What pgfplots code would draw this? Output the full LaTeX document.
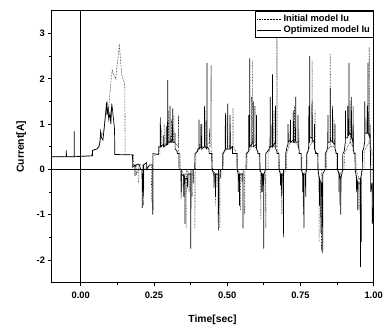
\documentclass[border=0pt]{standalone}
\usepackage{fontspec}
\setmainfont{Liberation Sans}
\usepackage{pgfplots}
\pgfplotsset{compat=1.18}
\begin{document}
\begin{tikzpicture}
\begin{axis}[
  scale only axis, width=326bp, height=275bp,
  xmin=-0.1, xmax=1.0, ymin=-2.5, ymax=3.5,
  xtick={0,0.25,0.5,0.75,1.0}, ytick={-2,-1,0,1,2,3},
  minor x tick num=1, minor y tick num=1,
  tick pos=left, tick align=outside,
  major tick length=3bp, minor tick length=2bp,
  axis line style={black, line width=0.9pt},
  every tick/.style={black, line width=0.8pt},
  /pgf/number format/assume math mode=true,
  xticklabel style={yshift=-3bp, /pgf/number format/.cd, fixed, fixed zerofill, precision=2},
  yticklabel style={/pgf/number format/.cd, fixed, precision=0},
  ticklabel style={font=\fontsize{9.5}{11}\selectfont\bfseries},
  label style={font=\fontsize{10.5}{12}\selectfont\bfseries},
  xlabel={Time[sec]}, ylabel={Current[A]},
  xlabel style={yshift=-4bp}, ylabel style={yshift=-2bp},
  extra x ticks={0}, extra x tick labels={},
  extra y ticks={0}, extra y tick labels={},
  extra tick style={grid=major, major grid style={black, line width=1.4pt}},
  legend style={at={(1,1)}, anchor=north east, draw=black, line width=0.7pt,
    font=\fontsize{9.5}{11}\selectfont\bfseries, inner sep=1.5pt, row sep=-1pt,
    cells={anchor=west}},
  legend cell align=left,
  legend image code/.code={\draw[#1] (0cm,0cm) -- (0.85cm,0cm);},
]
\addplot[black, line width=0.55pt, densely dotted] coordinates {
(-0.1,0.28)(0.037,0.3)(0.0405,0.42)(0.055,0.45)(0.062,0.5)(0.066,0.65)(0.068,0.85)(0.072,0.75)(0.08,0.9)(0.085,1.2)(0.09,1.5)(0.095,1.3)(0.1,1.7)(0.104,2.0)(0.108,2.2)(0.112,2.1)(0.116,2.05)(0.12,2.0)(0.124,2.3)(0.128,2.5)(0.132,2.77)(0.136,2.4)(0.14,2.1)(0.144,2.0)(0.148,1.95)(0.151,1.85)(0.1515,0.33)
(0.18,0.33)(0.1805,0.1)(0.1895,0.1)(0.19,-0.1)(0.1975,0.0)(0.198,-0.3)(0.1985,0.1)(0.2115,0.1)(0.212,-0.5)(0.2145,-0.5)(0.215,-0.8)(0.2155,0.0)(0.2415,0.1)(0.242,-0.7)(0.2465,-0.7)(0.247,-0.9)(0.2475,0.3)(0.27,0.35)
(0.2705,0.5)(0.2745,0.5)(0.275,0.9)(0.2755,0.5)(0.2845,0.5)(0.285,1.0)(0.2855,0.5)(0.2995,0.55)(0.3,1.3)(0.3005,0.6)(0.3095,0.6)(0.31,1.1)(0.3105,0.6)(0.3175,0.6)(0.318,1.2)(0.3185,0.6)(0.3335,0.5)(0.334,1.2)(0.3345,0.4)(0.3395,0.35)(0.34,0.0)
(0.3425,0.0)(0.343,-0.65)(0.3435,0.0)(0.3495,-0.1)(0.35,-0.4)(0.3505,-0.1)(0.3595,-0.1)(0.36,-1.3)(0.3605,0.0)(0.3695,-0.1)(0.37,-0.5)(0.3705,-0.1)(0.3795,-0.1)(0.38,-0.6)(0.3805,-0.1)(0.3895,-0.1)(0.39,-1.3)(0.3905,0.0)(0.3925,0.0)(0.393,0.35)
(0.4,0.45)(0.4095,0.5)(0.41,1.0)(0.4105,0.5)(0.4245,0.5)(0.425,1.3)(0.4255,0.5)(0.4395,0.6)(0.44,0.9)(0.4405,0.5)(0.4445,0.5)(0.445,2.3)(0.4455,0.4)(0.4495,0.35)(0.45,0.0)
(0.4595,-0.1)(0.46,-0.8)(0.4605,-0.1)(0.4645,-0.1)(0.465,-0.4)(0.4655,-0.1)(0.4745,-0.1)(0.475,-1.3)(0.4755,0.0)(0.4865,0.0)(0.487,0.35)
(0.4995,0.45)(0.5,1.2)(0.5005,0.5)(0.5095,0.5)(0.51,1.0)(0.5105,0.5)(0.5195,0.5)(0.52,1.35)(0.5205,0.5)(0.5295,0.4)(0.53,0.35)(0.5345,0.35)(0.535,0.0)
(0.5445,-0.1)(0.545,-0.9)(0.5455,-0.1)(0.5495,-0.1)(0.55,-0.3)(0.5505,-0.1)(0.5595,-0.1)(0.56,-1.0)(0.5605,0.0)(0.5675,0.0)(0.568,0.35)
(0.5835,0.5)(0.584,1.6)(0.5845,0.5)(0.5855,0.5)(0.586,2.4)(0.5865,0.6)(0.5945,0.6)(0.595,1.4)(0.5955,0.5)(0.6045,0.4)(0.605,0.35)(0.6095,0.35)(0.61,0.0)
(0.6145,-0.1)(0.615,-1.1)(0.6155,-0.1)(0.6195,-0.1)(0.62,-0.5)(0.6205,-0.1)(0.6315,-0.1)(0.632,-1.3)(0.6325,0.0)(0.6395,0.0)(0.64,0.35)
(0.6495,0.5)(0.65,1.0)(0.6505,0.5)(0.6595,0.5)(0.66,1.3)(0.6605,0.5)(0.6695,0.5)(0.67,3.4)(0.6705,0.4)(0.6775,0.35)(0.678,0.0)
(0.6845,-0.1)(0.685,-1.0)(0.6855,-0.1)(0.6895,-0.1)(0.69,-0.3)(0.6905,-0.1)(0.7025,0.0)(0.703,0.35)
(0.7145,0.6)(0.715,1.0)(0.7155,0.6)(0.7295,0.6)(0.73,1.4)(0.7305,0.6)(0.7445,0.5)(0.745,0.9)(0.7455,0.35)(0.7545,0.35)(0.755,0.0)
(0.7595,-0.1)(0.76,-1.0)(0.7605,-0.1)(0.7715,0.0)(0.772,0.35)
(0.7895,0.6)(0.79,2.4)(0.7905,0.6)(0.7995,0.55)(0.8,1.3)(0.8005,0.4)(0.8095,0.35)(0.81,0.0)
(0.8135,-0.2)(0.814,-1.6)(0.8145,-0.3)(0.8215,-0.3)(0.822,-1.8)(0.8225,0.0)(0.8395,0.0)(0.84,0.4)
(0.8515,0.5)(0.852,2.55)(0.8525,0.5)(0.8645,0.5)(0.865,1.1)(0.8655,0.5)(0.8745,0.35)(0.875,0.0)
(0.8845,-0.1)(0.885,-0.8)(0.8855,-0.1)(0.8995,0.0)(0.9,0.35)
(0.9195,0.6)(0.92,1.5)(0.9205,0.6)(0.9295,0.5)(0.93,1.4)(0.9305,0.4)(0.9395,0.35)(0.94,0.0)
(0.9495,-0.2)(0.95,-0.9)(0.9505,-0.2)(0.9575,-0.2)(0.958,-1.6)(0.9585,0.0)(0.9675,0.0)(0.968,0.4)
(0.9845,0.6)(0.985,2.7)(0.9855,0.6)(0.9945,0.4)(0.995,-0.4)(1.0,-0.8)
};
\addlegendentry{Initial model Iu}
\addplot[black, line width=0.7pt] coordinates {
(-0.1,0.28)(-0.0495,0.28)(-0.049,0.42)(-0.0485,0.28)(-0.0225,0.28)(-0.022,0.84)(-0.0215,0.28)(0.037,0.3)
(0.04,0.3)(0.0405,0.42)(0.055,0.45)(0.062,0.5)(0.066,0.6)(0.068,0.82)(0.071,0.7)(0.076,0.65)(0.08,0.9)(0.083,1.1)(0.086,1.3)(0.088,1.48)(0.09,1.2)(0.093,1.35)(0.096,1.1)(0.1,1.25)(0.103,1.0)(0.106,1.45)(0.109,1.3)(0.112,1.1)(0.1155,0.9)(0.1165,0.33)
(0.177,0.32)(0.1775,0.05)(0.185,0.1)(0.1855,-0.15)(0.186,0.08)(0.195,0.12)(0.2,0.1)(0.205,0.0)(0.2095,0.0)(0.21,-0.85)(0.2105,-0.1)(0.2135,-0.1)(0.214,-0.6)(0.2145,0.1)(0.225,0.15)(0.2255,0.0)(0.235,0.1)(0.2455,0.1)(0.246,-1.0)(0.2465,0.35)(0.266,0.33)
(0.2665,0.5)(0.2715,0.5)(0.272,1.15)(0.2725,0.5)(0.2815,0.55)(0.282,0.75)(0.2825,0.5)(0.2915,0.55)(0.292,0.95)(0.2925,0.55)(0.2965,0.55)(0.297,1.97)(0.2975,0.6)(0.3045,0.6)(0.305,1.4)(0.3055,0.6)(0.3135,0.65)(0.314,1.35)(0.3145,0.6)(0.3215,0.6)(0.322,0.8)(0.3225,0.45)(0.3295,0.4)(0.33,0.35)(0.3355,0.35)(0.336,0.0)
(0.3425,0.0)(0.343,-0.5)(0.3435,-0.1)(0.3515,-0.15)(0.352,-0.6)(0.3525,-0.1)(0.3555,-0.2)(0.356,-1.2)(0.3565,-0.2)(0.3645,-0.2)(0.365,-0.4)(0.3655,-0.1)(0.3755,-0.1)(0.376,-1.75)(0.3765,0.0)(0.3835,0.0)(0.384,-0.3)(0.3845,0.0)(0.3895,0.0)(0.39,0.35)
(0.3995,0.4)(0.4,0.45)(0.4035,0.45)(0.404,1.1)(0.4045,0.45)(0.4125,0.5)(0.413,1.0)(0.4135,0.45)(0.4225,0.5)(0.423,1.4)(0.4235,0.5)(0.4305,0.45)(0.431,2.35)(0.4315,0.5)(0.438,0.45)(0.4385,0.35)(0.4475,0.35)(0.448,0.0)
(0.4545,-0.1)(0.455,-0.4)(0.4555,-0.1)(0.4595,-0.1)(0.46,-0.6)(0.4605,-0.1)(0.4695,-0.1)(0.47,-1.35)(0.4705,0.0)(0.4775,0.0)(0.478,-0.2)(0.4785,0.0)(0.4845,0.0)(0.485,0.35)
(0.49,0.4)(0.4935,0.45)(0.494,1.25)(0.4945,0.45)(0.5015,0.45)(0.502,1.45)(0.5025,0.45)(0.5095,0.45)(0.51,1.2)(0.5105,0.45)(0.518,0.5)(0.5185,0.35)(0.5335,0.35)(0.534,0.0)
(0.5375,-0.1)(0.538,-0.5)(0.5385,-0.1)(0.5415,-0.1)(0.542,-0.8)(0.5425,-0.1)(0.5535,-0.1)(0.554,-1.3)(0.5545,0.0)(0.5645,0.0)(0.565,0.35)
(0.5735,0.4)(0.574,1.2)(0.5745,0.5)(0.5765,0.5)(0.577,2.45)(0.5775,0.5)(0.5885,0.6)(0.589,1.5)(0.5895,0.5)(0.5995,0.55)(0.6,1.2)(0.6005,0.45)(0.6045,0.4)(0.605,0.35)(0.6115,0.35)(0.612,0.0)
(0.6175,-0.1)(0.618,-0.5)(0.6185,-0.1)(0.6215,-0.1)(0.622,-0.35)(0.6225,-0.1)(0.6245,-0.1)(0.625,-1.75)(0.6255,-0.1)(0.6315,0.0)(0.632,0.35)
(0.6435,0.45)(0.644,0.5)(0.6465,0.5)(0.647,1.6)(0.6475,0.5)(0.6545,0.5)(0.655,2.1)(0.6555,0.5)(0.6645,0.6)(0.665,1.4)(0.6655,0.45)(0.67,0.4)(0.6705,0.35)(0.6765,0.35)(0.677,0.0)
(0.6815,-0.1)(0.682,-0.35)(0.6825,-0.1)(0.6855,-0.1)(0.686,-0.6)(0.6865,-0.1)(0.6915,-0.1)(0.692,-1.5)(0.6925,0.0)(0.6995,0.0)(0.7,0.35)
(0.7045,0.5)(0.7075,0.55)(0.708,1.0)(0.7085,0.6)(0.7155,0.65)(0.716,1.1)(0.7165,0.6)(0.7255,0.65)(0.726,1.3)(0.7265,0.6)(0.7335,0.65)(0.734,1.6)(0.7345,0.6)(0.7415,0.6)(0.742,1.2)(0.7425,0.5)(0.7455,0.45)(0.746,0.35)(0.7525,0.35)(0.753,0.0)
(0.7575,-0.1)(0.758,-0.5)(0.7585,-0.1)(0.7615,-0.1)(0.762,-1.3)(0.7625,-0.1)(0.7675,-0.1)(0.768,-0.6)(0.7685,-0.1)(0.7715,0.0)(0.772,0.35)
(0.776,0.4)(0.7785,0.5)(0.779,1.4)(0.7795,0.6)(0.7815,0.6)(0.782,2.5)(0.7825,0.7)(0.7895,0.7)(0.79,1.5)(0.7905,0.65)(0.7975,0.6)(0.798,1.0)(0.7985,0.45)(0.801,0.4)(0.8015,0.35)(0.8095,0.35)(0.81,0.0)
(0.8145,-0.2)(0.815,-0.8)(0.8155,-0.2)(0.8195,-0.3)(0.82,-1.4)(0.8205,-0.3)(0.8225,-0.3)(0.823,-0.6)(0.8235,-0.3)(0.8255,-0.3)(0.826,-1.85)(0.8265,-0.1)(0.8345,0.0)(0.835,0.35)
(0.8395,0.4)(0.8435,0.5)(0.844,1.2)(0.8445,0.6)(0.8515,0.6)(0.852,1.8)(0.8525,0.65)(0.8595,0.6)(0.86,1.4)(0.8605,0.6)(0.8675,0.55)(0.868,1.0)(0.8685,0.45)(0.871,0.4)(0.8715,0.35)(0.8765,0.35)(0.877,0.0)
(0.8815,-0.1)(0.882,-0.5)(0.8825,-0.1)(0.8875,-0.2)(0.888,-1.0)(0.8885,-0.2)(0.8945,0.0)(0.895,0.35)
(0.8995,0.4)(0.9035,0.6)(0.904,1.3)(0.9045,0.7)(0.9115,0.7)(0.912,1.4)(0.9125,0.75)(0.9155,0.75)(0.916,2.35)(0.9165,0.8)(0.9235,0.75)(0.924,1.6)(0.9245,0.7)(0.9295,0.6)(0.93,1.0)(0.9305,0.45)(0.9325,0.4)(0.933,0.35)(0.9365,0.35)(0.937,0.0)
(0.9415,-0.2)(0.942,-0.5)(0.9425,-0.2)(0.9455,-0.3)(0.946,-0.9)(0.9465,-0.3)(0.9545,-0.3)(0.955,-2.15)(0.9555,-0.2)(0.9615,0.0)(0.962,0.4)
(0.9655,0.45)(0.9695,0.6)(0.97,1.5)(0.9705,0.8)(0.9775,0.8)(0.978,1.4)(0.9785,0.8)(0.9805,0.8)(0.981,2.35)(0.9815,0.8)(0.9875,0.7)(0.988,1.0)(0.9885,0.4)(0.9895,0.4)(0.99,-0.5)(0.995,-0.3)(0.9955,-1.2)(0.9995,-0.8)(1.0,-1.5)
};
\addlegendentry{Optimized model Iu}
\end{axis}
\path ([shift={(-52bp,-46bp)}]current axis.south west) rectangle ([shift={(8bp,11bp)}]current axis.north east);
\end{tikzpicture}
\end{document}
